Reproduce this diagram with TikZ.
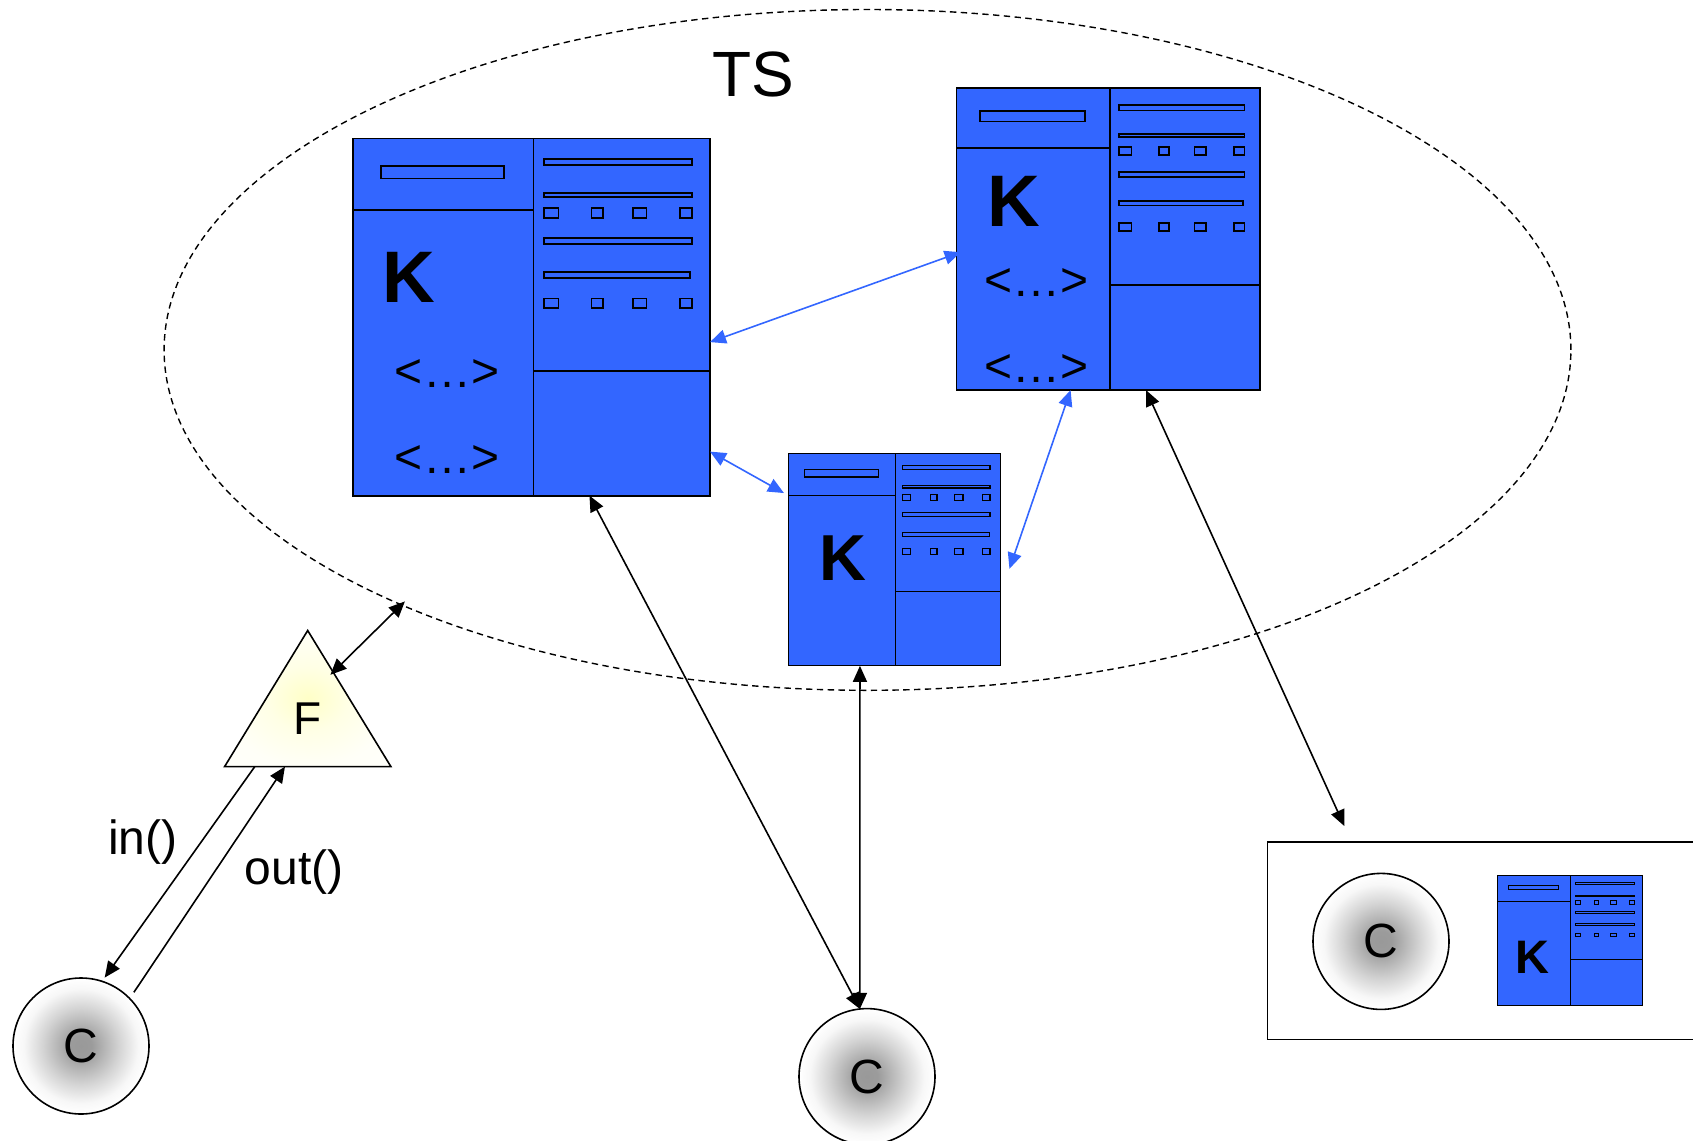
\documentclass[tikz,border=0pt]{standalone}
\usepackage{fontspec}
\setmainfont{Liberation Sans}
\usetikzlibrary{arrows.meta,shapes.geometric}
\definecolor{kblue}{HTML}{3366FF}
\pgfdeclareradialshading{cshade}{\pgfpointorigin}{%
  color(0bp)=(black!40); color(4bp)=(black!39); color(14bp)=(black!17);
  color(21bp)=(black!3); color(25bp)=(white); color(50bp)=(white)}
\pgfdeclareradialshading{fshade}{\pgfpointorigin}{%
  color(0bp)=(yellow!22); color(12bp)=(yellow!10); color(25bp)=(yellow!3); color(50bp)=(white)}
\newcommand{\fs}[1]{\fontsize{#1}{#1}\selectfont}
% name, cx, cy, w, h, line width
\newcommand{\kbox}[6]{%
  \node[kouter,line width=#6,minimum width=#4*.5pt,minimum height=#5*.5pt] (#1) at (#2,#3) {};
  \begin{scope}[shift={(#1.north west)},x=#4*.5pt,y=-#5*.5pt,line width=#6]
    \draw (.506,0) -- (.506,1);
    \draw (0,.2) -- (.506,.2);
    \draw (.506,.652) -- (1,.652);
    \draw (.078,.078) rectangle (.423,.112);
    \draw (.536,.058) rectangle (.949,.075);
    \draw (.536,.153) rectangle (.949,.164);
    \draw (.536,.279) rectangle (.949,.296);
    \draw (.536,.374) rectangle (.945,.390);
    \foreach \ya/\yb in {.195/.222,.448/.475}{
      \foreach \xa/\xb in {.536/.576,.668/.700,.784/.822,.915/.949}{
        \draw (\xa,\ya) rectangle (\xb,\yb);
      }
    }
  \end{scope}
}
\tikzset{
  x=.5pt,y=-.5pt,
  kouter/.style={draw=black,fill=kblue,rectangle,inner sep=0pt,outer sep=0pt},
  txt/.style={inner sep=0pt,outer sep=0pt,text=black},
  client/.style={circle,draw=black,line width=.8pt,minimum size=68pt,inner sep=0pt,outer sep=0pt,
    shading=cshade,font=\fs{24}},
  tip/.style={-{Stealth[length=8pt,width=7pt,inset=0pt]}},
  link/.style={{Stealth[length=8pt,width=7pt,inset=0pt]}-{Stealth[length=8pt,width=7pt,inset=0pt]},line width=.8pt,draw=black},
  bluelink/.style={{Stealth[length=8pt,width=7pt,inset=0pt]}-{Stealth[length=8pt,width=7pt,inset=0pt]},line width=.8pt,draw=kblue},
  kletter/.style={txt,font=\fs{36.5}\bfseries},
  dots/.style={txt,font=\fs{24}},
}
\begin{document}
\begin{tikzpicture}
\useasboundingbox (0,0) rectangle (1693,1141);
\clip (0,0) rectangle (1693,1141);

% tuple space
\node[ellipse,draw=black,dash pattern=on 3.2pt off 2.2pt,line width=.7pt,minimum width=703.4pt,minimum height=340.4pt,inner sep=0pt,outer sep=0pt] (ts) at (867.5,349.9) {};
\node[txt,font=\fs{32}] (tslabel) at (753,74) {TS};

% kernels
\kbox{kone}{531.4}{317}{357.2}{357.2}{.9pt}
\node[kletter] (konek) at (408.5,277.5) {K};
\node[dots] (konea) at (447,374) {<…>};
\node[dots] (koneb) at (447,460) {<…>};

\kbox{ktwo}{1108.3}{238.9}{303.4}{302.4}{.85pt}
\node[kletter] (ktwok) at (1013.5,201.5) {K};
\node[dots] (ktwoa) at (1036.5,283) {<…>};
\node[dots] (ktwob) at (1036.5,369) {<…>};

\kbox{kthree}{894.5}{559.5}{212.7}{212.7}{.55pt}
\node[kletter,font=\fs{32.5}\bfseries] (kthreek) at (843,558.5) {K};

% client with local kernel
\node[rectangle,draw=black,line width=.8pt,fill=white,minimum width=226.2pt,minimum height=98.9pt,inner sep=0pt,outer sep=0pt] (frame) at (1493.8,940.6) {};
\kbox{kfour}{1569.8}{940.2}{144.7}{130}{.5pt}
\node[kletter,font=\fs{23.5}\bfseries] (kfourk) at (1532.7,957.5) {K};

% clients
\node[client] (cone) at (81,1046) {C};
\node[client] (ctwo) at (867,1076.6) {C};
\node[client] (cthree) at (1381,941.4) {C};

% front end
\coordinate (tA) at (307.7,630.5);
\coordinate (tL) at (224.6,766.6);
\coordinate (tR) at (390.9,766.6);
\path[shading=fshade] (tA) -- (tL) -- (tR) -- cycle;
\draw[line width=.8pt,line join=miter] (tA) -- (tL) -- (tR) -- cycle;
\node[txt,font=\fs{23}] (F) at (307.7,719) {F};
\coordinate (fup) at (330.4,674.8);
\coordinate (fts) at (404.9,601.4);
\coordinate (fin) at (254.8,766.6);
\coordinate (fout) at (285,766.6);
\coordinate (cout) at (133.9,992.3);
\coordinate (cin) at (104.7,977.6);
\coordinate (fr) at (1344.3,826);

% connectors
\draw[bluelink] (kone.-8.2) -- ([xshift=2pt]ktwo.185.7);
\draw[bluelink] (kone.-37) -- ([xshift=-2.1pt]kthree.148.4);
\draw[bluelink] (ktwo.-104.3) -- ([xshift=4.3pt]kthree.-5.6);
\draw[link] (kone.-72.6) -- (ctwo.96);
\draw[link] (kthree.-108.2) -- (ctwo.96);
\draw[link] (ktwo.-76.2) -- (fr);
\draw[link] (fts) -- (fup);
\draw[tip,line width=.8pt] (fin) -- (cin);
\draw[tip,line width=.8pt] (cout) -- (fout);

\node[txt,font=\fs{24}] (inlabel) at (143,842) {in()};
\node[txt,font=\fs{24}] (outlabel) at (294,872) {out()};
\end{tikzpicture}
\end{document}
